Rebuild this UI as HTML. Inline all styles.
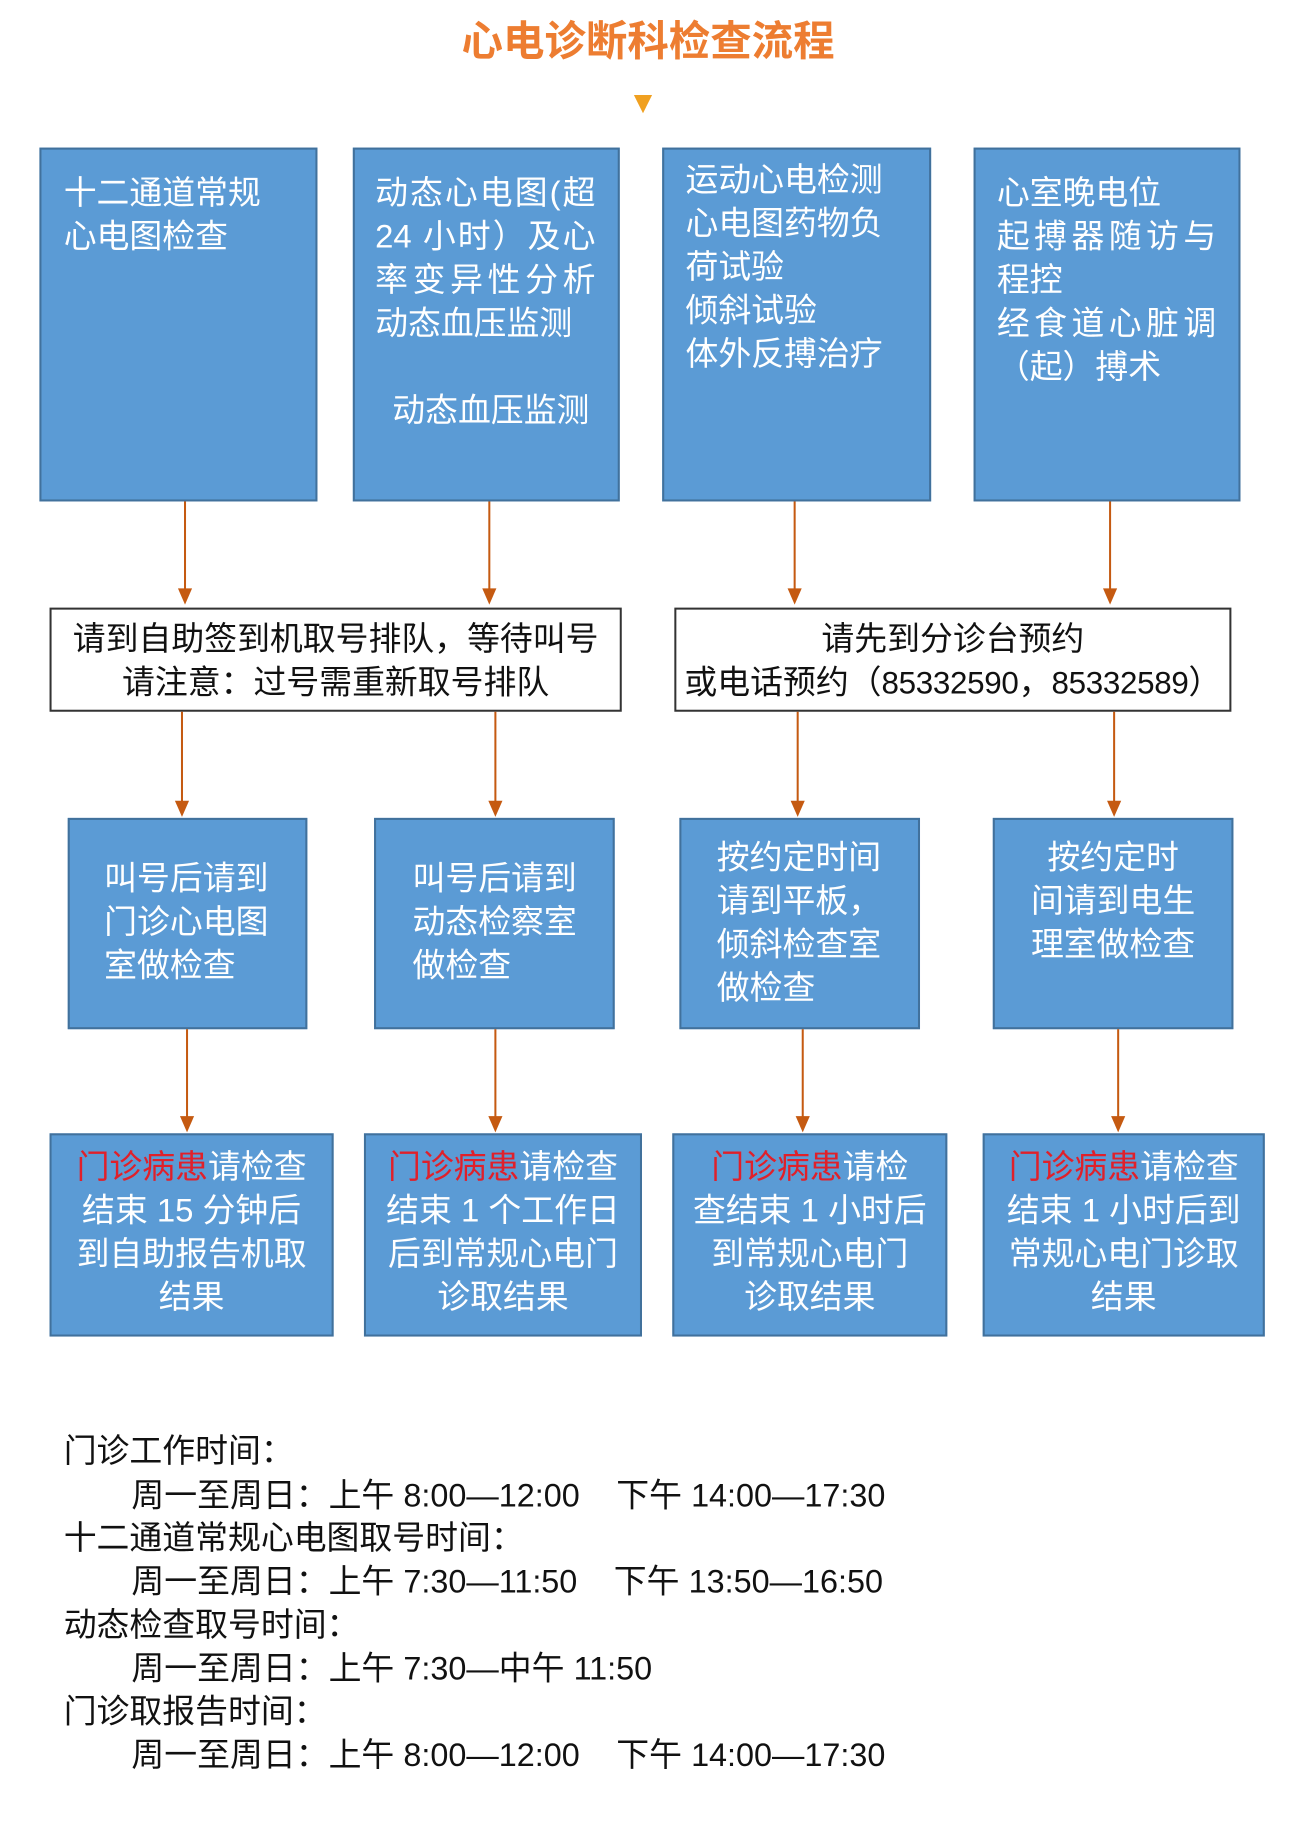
<!DOCTYPE html>
<html><head><meta charset="utf-8"><style>
body{margin:0;width:1298px;height:1815px;background:#fff;position:relative;overflow:hidden;font-family:"Liberation Sans","Noto Sans CJK SC",sans-serif;}
#w{position:absolute;left:0;top:0;width:1298px;height:1815px;transform:scale(1.011);transform-origin:0 0;}
.b{position:absolute;background:#5b9bd5;border:2px solid #41719c;box-sizing:border-box;}
.w{position:absolute;background:#fff;border:2px solid #333;box-sizing:border-box;}
.t{position:absolute;white-space:nowrap;font-size:32.5px;line-height:43px;color:#fff;}
.j{text-align:justify;text-align-last:justify;}
.c{text-align:center;}
.k{color:#111;}
.r{color:#e0202a;}
.v{position:absolute;width:2px;background:#c55a11;}
.h{position:absolute;width:0;height:0;border-left:7px solid transparent;border-right:7px solid transparent;border-top:16px solid #c55a11;}
.f{position:absolute;white-space:nowrap;font-size:32.5px;line-height:43px;color:#111;}
.n{font-size:31px;letter-spacing:-0.3px;}
.f .n{font-size:32px;letter-spacing:0;}
</style></head><body><div id="w">
<div style="position:absolute;left:0;width:1282px;top:16px;text-align:center;font-size:41px;font-weight:bold;color:#ed7d31;line-height:50px;">心电诊断科检查流程</div>
<div style="position:absolute;left:627px;top:94px;width:0;height:0;border-left:9px solid transparent;border-right:9px solid transparent;border-top:18px solid #f0a020;"></div>

<div class="b" style="left:39px;top:146px;width:275px;height:350px"></div>
<div class="b" style="left:349px;top:146px;width:264px;height:350px"></div>
<div class="b" style="left:655px;top:146px;width:266px;height:350px"></div>
<div class="b" style="left:963px;top:146px;width:264px;height:350px"></div>
<div class="t" style="left:63px;top:170px">十二通道常规</div>
<div class="t" style="left:63px;top:213px">心电图检查</div>
<div class="t j" style="left:371px;width:218px;top:170px">动态心电图(超</div>
<div class="t j" style="left:371px;width:218px;top:213px">24 小时）及心</div>
<div class="t j" style="left:371px;width:218px;top:256px">率变异性分析</div>
<div class="t" style="left:371px;top:299px">动态血压监测</div>
<div class="t" style="left:388px;top:385px">动态血压监测</div>
<div class="t" style="left:678px;top:157px">运动心电检测</div>
<div class="t" style="left:678px;top:200px">心电图药物负</div>
<div class="t" style="left:678px;top:243px">荷试验</div>
<div class="t" style="left:678px;top:286px">倾斜试验</div>
<div class="t" style="left:678px;top:329px">体外反搏治疗</div>
<div class="t" style="left:986px;top:170px">心室晚电位</div>
<div class="t j" style="left:986px;width:217px;top:213px">起搏器随访与</div>
<div class="t" style="left:986px;top:256px">程控</div>
<div class="t j" style="left:986px;width:217px;top:299px">经食道心脏调</div>
<div class="t" style="left:986px;top:342px">（起）搏术</div>

<div class="v" style="left:182px;top:496px;height:88px"></div><div class="h" style="left:176px;top:582px"></div>
<div class="v" style="left:483px;top:496px;height:88px"></div><div class="h" style="left:477px;top:582px"></div>
<div class="v" style="left:785px;top:496px;height:88px"></div><div class="h" style="left:779px;top:582px"></div>
<div class="v" style="left:1097px;top:496px;height:88px"></div><div class="h" style="left:1091px;top:582px"></div>

<div class="w" style="left:49px;top:601px;width:566px;height:103px"></div>
<div class="w" style="left:667px;top:601px;width:551px;height:103px"></div>
<div class="t k c" style="left:49px;width:566px;top:611px">请到自助签到机取号排队，等待叫号</div>
<div class="t k c" style="left:49px;width:566px;top:654px">请注意：过号需重新取号排队</div>
<div class="t k c" style="left:667px;width:551px;top:611px">请先到分诊台预约</div>
<div class="t k c" style="left:667px;width:551px;top:654px">或电话预约（<span class="n">85332590</span>，<span class="n">85332589</span>）</div>

<div class="v" style="left:179px;top:704px;height:90px"></div><div class="h" style="left:173px;top:792px"></div>
<div class="v" style="left:489px;top:704px;height:90px"></div><div class="h" style="left:483px;top:792px"></div>
<div class="v" style="left:788px;top:704px;height:90px"></div><div class="h" style="left:782px;top:792px"></div>
<div class="v" style="left:1101px;top:704px;height:90px"></div><div class="h" style="left:1095px;top:792px"></div>

<div class="b" style="left:67px;top:809px;width:237px;height:209px"></div>
<div class="b" style="left:370px;top:809px;width:238px;height:209px"></div>
<div class="b" style="left:672px;top:809px;width:238px;height:209px"></div>
<div class="b" style="left:982px;top:809px;width:238px;height:209px"></div>
<div class="t" style="left:103px;top:848px">叫号后请到</div>
<div class="t" style="left:103px;top:891px">门诊心电图</div>
<div class="t" style="left:103px;top:934px">室做检查</div>
<div class="t" style="left:408px;top:848px">叫号后请到</div>
<div class="t" style="left:408px;top:891px">动态检察室</div>
<div class="t" style="left:408px;top:934px">做检查</div>
<div class="t" style="left:709px;top:827px">按约定时间</div>
<div class="t" style="left:709px;top:870px">请到平板，</div>
<div class="t" style="left:709px;top:913px">倾斜检查室</div>
<div class="t" style="left:709px;top:956px">做检查</div>
<div class="t c" style="left:982px;width:238px;top:827px">按约定时</div>
<div class="t c" style="left:982px;width:238px;top:870px">间请到电生</div>
<div class="t c" style="left:982px;width:238px;top:913px">理室做检查</div>

<div class="v" style="left:184px;top:1018px;height:88px"></div><div class="h" style="left:178px;top:1104px"></div>
<div class="v" style="left:489px;top:1018px;height:88px"></div><div class="h" style="left:483px;top:1104px"></div>
<div class="v" style="left:793px;top:1018px;height:88px"></div><div class="h" style="left:787px;top:1104px"></div>
<div class="v" style="left:1105px;top:1018px;height:88px"></div><div class="h" style="left:1099px;top:1104px"></div>

<div class="b" style="left:49px;top:1121px;width:281px;height:201px"></div>
<div class="b" style="left:360px;top:1121px;width:275px;height:201px"></div>
<div class="b" style="left:665px;top:1121px;width:272px;height:201px"></div>
<div class="b" style="left:972px;top:1121px;width:279px;height:201px"></div>
<div class="t c" style="left:49px;width:281px;top:1133px"><span class="r">门诊病患</span>请检查</div>
<div class="t c" style="left:49px;width:281px;top:1176px">结束 15 分钟后</div>
<div class="t c" style="left:49px;width:281px;top:1219px">到自助报告机取</div>
<div class="t c" style="left:49px;width:281px;top:1262px">结果</div>
<div class="t c" style="left:360px;width:275px;top:1133px"><span class="r">门诊病患</span>请检查</div>
<div class="t c" style="left:360px;width:275px;top:1176px">结束 1 个工作日</div>
<div class="t c" style="left:360px;width:275px;top:1219px">后到常规心电门</div>
<div class="t c" style="left:360px;width:275px;top:1262px">诊取结果</div>
<div class="t c" style="left:665px;width:272px;top:1133px"><span class="r">门诊病患</span>请检</div>
<div class="t c" style="left:665px;width:272px;top:1176px">查结束 1 小时后</div>
<div class="t c" style="left:665px;width:272px;top:1219px">到常规心电门</div>
<div class="t c" style="left:665px;width:272px;top:1262px">诊取结果</div>
<div class="t c" style="left:972px;width:279px;top:1133px"><span class="r">门诊病患</span>请检查</div>
<div class="t c" style="left:972px;width:279px;top:1176px">结束 1 小时后到</div>
<div class="t c" style="left:972px;width:279px;top:1219px">常规心电门诊取</div>
<div class="t c" style="left:972px;width:279px;top:1262px">结果</div>

<div class="f" style="left:63px;top:1414px">门诊工作时间：</div>
<div class="f" style="left:130px;top:1458px">周一至周日：上午 <span class="n">8:00—12:00</span>&nbsp;&nbsp;&nbsp;&nbsp;下午 <span class="n">14:00—17:30</span></div>
<div class="f" style="left:63px;top:1500px">十二通道常规心电图取号时间：</div>
<div class="f" style="left:130px;top:1543px">周一至周日：上午 <span class="n">7:30—11:50</span>&nbsp;&nbsp;&nbsp;&nbsp;下午 <span class="n">13:50—16:50</span></div>
<div class="f" style="left:63px;top:1586px">动态检查取号时间：</div>
<div class="f" style="left:130px;top:1629px">周一至周日：上午 <span class="n">7:30—</span>中午 <span class="n">11:50</span></div>
<div class="f" style="left:63px;top:1672px">门诊取报告时间：</div>
<div class="f" style="left:130px;top:1715px">周一至周日：上午 <span class="n">8:00—12:00</span>&nbsp;&nbsp;&nbsp;&nbsp;下午 <span class="n">14:00—17:30</span></div>
</div></body></html>
